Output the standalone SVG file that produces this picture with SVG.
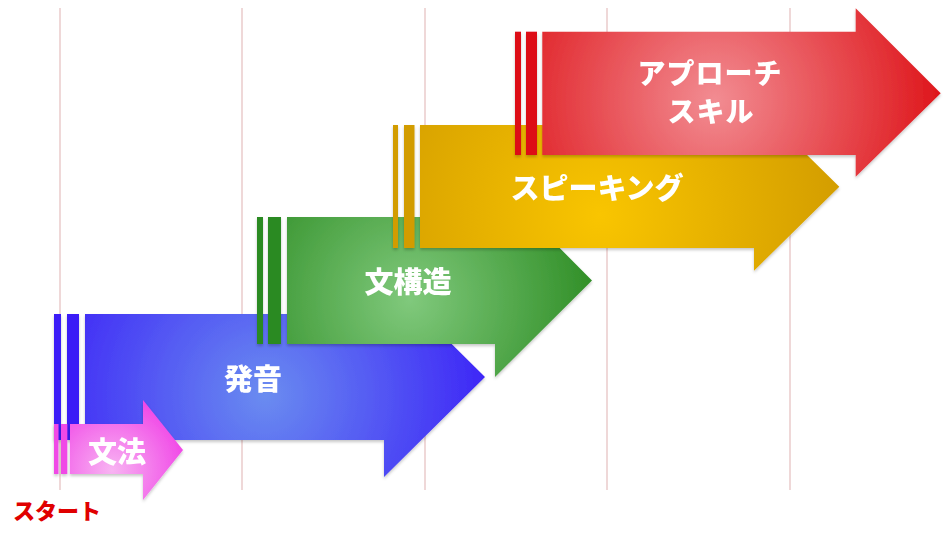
<svg xmlns="http://www.w3.org/2000/svg" width="951" height="535" viewBox="0 0 951 535">
  <style>
    .grid line { stroke: #efd8d8; stroke-width: 2; }
    .lbl { font-family: "Noto Sans CJK JP", "Noto Sans", sans-serif; font-weight: 900; font-size: 29px; fill: #ffffff; text-anchor: middle; }
    .lbl2 { font-size: 28px; letter-spacing: 1px; }
    .start { font-family: "Noto Sans CJK JP", "Noto Sans", sans-serif; font-weight: 900; font-size: 22px; fill: #e00000; text-anchor: middle; }
    .arrow { filter: url(#shadow); }
  </style>
  <defs>
    <filter id="shadow" x="-10%" y="-10%" width="120%" height="130%">
      <feDropShadow dx="0" dy="2" stdDeviation="1.5" flood-color="#000" flood-opacity="0.22"/>
    </filter>
    <radialGradient id="gBlue" gradientUnits="userSpaceOnUse" cx="265" cy="395" r="240">
      <stop offset="0" stop-color="#6a8cf0"/>
      <stop offset="1" stop-color="#3a1ef7"/>
    </radialGradient>
    <radialGradient id="gGreen" gradientUnits="userSpaceOnUse" cx="410" cy="300" r="200">
      <stop offset="0" stop-color="#80c97c"/>
      <stop offset="1" stop-color="#2a8a20"/>
    </radialGradient>
    <radialGradient id="gYellow" gradientUnits="userSpaceOnUse" cx="600" cy="215" r="250">
      <stop offset="0" stop-color="#f9c500"/>
      <stop offset="1" stop-color="#d29c00"/>
    </radialGradient>
    <radialGradient id="gRed" gradientUnits="userSpaceOnUse" cx="715" cy="100" r="240">
      <stop offset="0" stop-color="#f28c92"/>
      <stop offset="1" stop-color="#dd0f14"/>
    </radialGradient>
    <radialGradient id="gPink" gradientUnits="userSpaceOnUse" cx="112" cy="470" r="80">
      <stop offset="0" stop-color="#f8b4f2"/>
      <stop offset="1" stop-color="#f040e6"/>
    </radialGradient>
  </defs>

  <rect width="951" height="535" fill="#ffffff"/>

  <g class="grid" id="grid">
    <line x1="60" y1="8" x2="60" y2="490"/>
    <line x1="242" y1="8" x2="242" y2="490"/>
    <line x1="425" y1="8" x2="425" y2="490"/>
    <line x1="607" y1="8" x2="607" y2="490"/>
    <line x1="790" y1="8" x2="790" y2="490"/>
  </g>

  <g id="connectors"></g>

  <g id="node-hatsuon" class="arrow">
    <rect x="54" y="314" width="7" height="126" fill="#3a1ef7"/>
    <rect x="67" y="314" width="12" height="126" fill="#3a1ef7"/>
    <path d="M85,314 H384 V277 L485,377 L384,477 V440 H85 Z" fill="url(#gBlue)"/>
    <text class="lbl" x="253" y="390">発音</text>
  </g>

  <g id="node-bunpou" class="arrow">
    <rect x="54" y="424" width="4.5" height="50" fill="#f048e6"/>
    <rect x="61" y="424" width="6.3" height="50" fill="#f048e6"/>
    <path d="M70,424 H143 V400 L183,450 L143,500 V474 H70 Z" fill="url(#gPink)"/>
    <text class="lbl" x="117" y="463">文法</text>
  </g>

  <g id="node-bunkouzou" class="arrow">
    <rect x="257" y="217" width="6" height="127" fill="#2a8a20"/>
    <rect x="268" y="217" width="13" height="127" fill="#2a8a20"/>
    <path d="M287,217 H495 V183 L592,280.5 L495,377 V344 H287 Z" fill="url(#gGreen)"/>
    <text class="lbl" x="408" y="293">文構造</text>
  </g>

  <g id="node-speaking" class="arrow">
    <rect x="393" y="125" width="5" height="123" fill="#d29c00"/>
    <rect x="404" y="125" width="10.5" height="123" fill="#d29c00"/>
    <path d="M420,125 H754 V102.7 L839.3,186.7 L754,270.7 V248 H420 Z" fill="url(#gYellow)"/>
    <text class="lbl" x="597" y="199">スピーキング</text>
  </g>

  <g id="node-approach" class="arrow">
    <rect x="515" y="31.7" width="6" height="123.3" fill="#dd0f14"/>
    <rect x="526" y="31.7" width="11" height="123.3" fill="#dd0f14"/>
    <path d="M542.3,31.7 H855.7 V8.3 L940.7,93.3 L855.7,176.7 V155 H542.3 Z" fill="url(#gRed)"/>
    <text class="lbl lbl2" x="710" y="84">アプローチ</text>
    <text class="lbl lbl2" x="711" y="122">スキル</text>
  </g>

  <g id="label-start">
    <text class="start" x="57" y="519">スタート</text>
  </g>
</svg>
